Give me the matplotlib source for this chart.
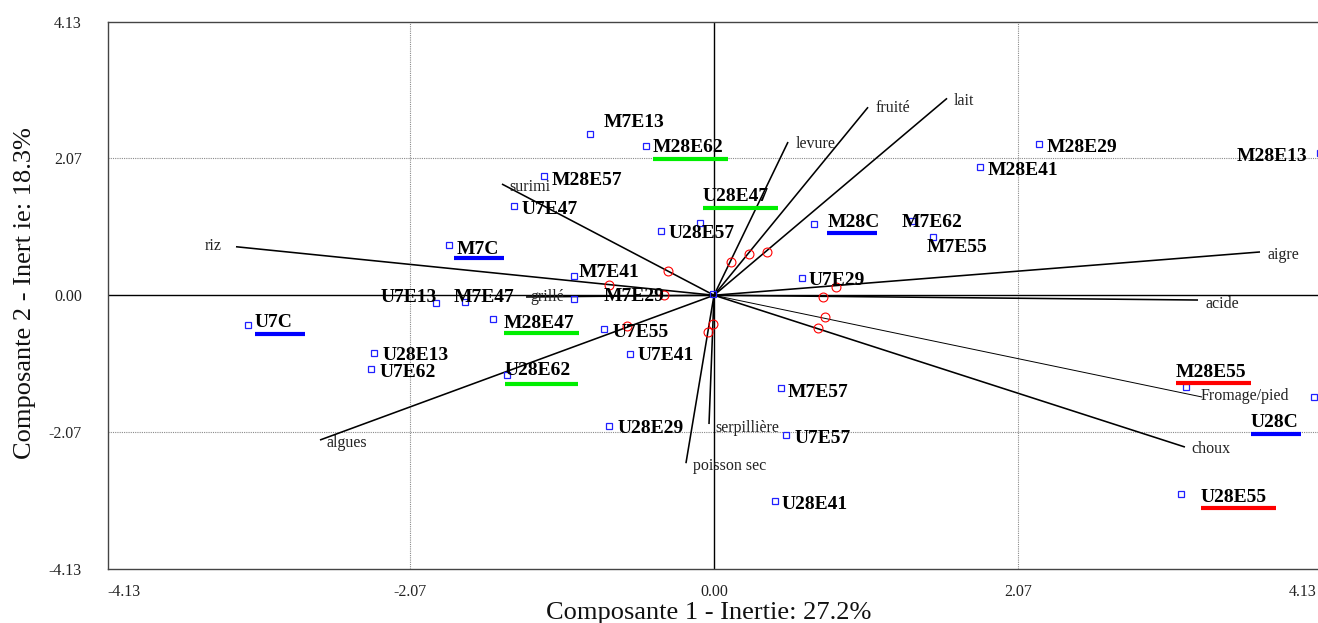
import matplotlib
matplotlib.use("Agg")
import matplotlib.pyplot as plt
from matplotlib.transforms import ScaledTranslation

plt.rcParams['font.family'] = ['Liberation Serif', 'DejaVu Serif']

# ---------------- data ----------------
# individuals (blue squares)
obs_x = [-0.844, -0.463, -1.158, -1.362, -0.095, -0.361, -1.805, 0.681, 1.348, 1.491,
         2.213, 1.811, 4.127, -0.953, 0.599, -1.893, -1.696, -0.953, -3.173, -1.505,
         -0.749, -2.315, -2.336, -1.410, -0.572, 0.456, -0.715, 0.490, 0.415, 3.214,
         4.085, 3.180, -0.007]
obs_y = [2.433, 2.252, 1.799, 1.346, 1.090, 0.969, 0.758, 1.075, 1.120, 0.879,
         2.282, 1.935, 2.146, 0.290, 0.260, -0.117, -0.102, -0.057, -0.449, -0.358,
         -0.509, -0.871, -1.112, -1.203, -0.887, -1.399, -1.973, -2.108, -3.104, -1.384,
         -1.535, -2.999, 0.019]

# individual labels and where they were written
obs_names = ['M7E13', 'M28E62', 'M28E57', 'U7E47', 'U28E47', 'U28E57', 'M7C', 'M28C',
             'M7E62', 'M7E55', 'M28E29', 'M28E41', 'M28E13', 'M7E41', 'U7E29', 'U7E13',
             'M7E47', 'M7E29', 'U7C', 'M28E47', 'U7E55', 'U28E13', 'U7E62', 'U28E62',
             'U7E41', 'M7E57', 'U28E29', 'U7E57', 'U28E41', 'M28E55', 'U28C', 'U28E55']
lab_x = [-0.749, -0.415, -1.103, -1.307, -0.075, -0.306, -1.750, 0.776, 1.280, 1.450,
         2.268, 1.866, 3.561, -0.919, 0.647, -2.268, -1.771, -0.749, -3.126, -1.430,
         -0.688, -2.254, -2.274, -1.423, -0.518, 0.504, -0.654, 0.552, 0.463, 3.146,
         3.657, 3.316]
lab_y = [2.633, 2.252, 1.758, 1.316, 1.513, 0.954, 0.717, 1.125, 1.125, 0.743,
         2.262, 1.915, 2.116, 0.370, 0.245, -0.011, -0.011, 0.008, -0.384, -0.399,
         -0.535, -0.886, -1.138, -1.113, -0.886, -1.440, -1.988, -2.134, -3.134, -1.138,
         -1.893, -3.024]

# highlight bars under some labels
hl_names = ['M28E62', 'U28E47', 'M28E47', 'U28E62', 'M7C', 'M28C', 'U7C', 'U28C', 'M28E55', 'U28E55']
hl_x0 = [-0.415, -0.075, -1.430, -1.423, -1.771, 0.769, -3.126, 3.657, 3.146, 3.316]
hl_x1 = [0.095, 0.436, -0.919, -0.926, -1.430, 1.110, -2.785, 3.998, 3.657, 3.827]
hl_y = [2.056, 1.312, -0.574, -1.334, 0.557, 0.939, -0.580, -2.089, -1.328, -3.205]
hl_group = ['g', 'g', 'g', 'g', 'b', 'b', 'b', 'b', 'r', 'r']

# variables (vectors)
var_names = ['riz', 'surimi', 'levure', 'fruité', 'lait', 'aigre', 'acide',
             'Fromage/pied', 'choux', 'algues', 'poisson sec', 'serpillière', 'grillé']
var_x = [-3.255, -1.444, 0.504, 1.049, 1.587, 3.718, 3.296, 3.323, 3.207, -2.683, -0.191, -0.034, -1.280]
var_y = [0.732, 1.678, 2.312, 2.837, 2.971, 0.653, -0.072, -1.535, -2.290, -2.184, -2.534, -1.943, -0.026]
var_lx = [-3.350, -1.396, 0.556, 1.101, 1.634, 3.771, 3.350, 3.316, 3.248, -2.637, -0.143, 0.012, -1.253]
var_ly = [0.773, 1.653, 2.302, 2.845, 2.961, 0.633, -0.106, -1.490, -2.300, -2.210, -2.551, -1.983, 0.004]
var_thin = [False, False, False, False, False, False, False, True, False, False, False, False, False]

# red circles on the vectors
circ_x = [-0.715, -0.313, 0.116, 0.238, 0.361, 0.831, 0.742, 0.756, 0.708, -0.592, -0.041, -0.007, -0.340]
circ_y = [0.154, 0.366, 0.502, 0.622, 0.653, 0.125, -0.026, -0.328, -0.494, -0.464, -0.554, -0.433, 0.004]

ticks = [-4.13, -2.07, 0.0, 2.07, 4.13]
tick_labels = ['-4.13', '-2.07', '0.00', '2.07', '4.13']
xlabel = 'Composante 1 - Inertie: 27.2%'
ylabel = 'Composante 2 - Inert ie: 18.3%'

# ---------------- figure ----------------
W, H = 1318, 623
fig = plt.figure(figsize=(W / 100, H / 100), dpi=100)
ax = fig.add_axes([107.5 / W, (H - 569) / H, (1320.5 - 107.5) / W, (569 - 21.5) / H])
ax.set_xlim(-4.13, 4.13)
ax.set_ylim(-4.13, 4.13)

for s in ['left', 'top', 'bottom']:
    ax.spines[s].set_color('#444444')
    ax.spines[s].set_linewidth(1.0)
ax.spines['right'].set_visible(False)

ax.set_xticks(ticks)
ax.set_xticklabels(tick_labels[:-1] + [''])
ax.set_yticks(ticks)
ax.set_yticklabels(tick_labels)
ax.tick_params(axis='x', length=0, pad=10.5, labelsize=11.5, labelcolor='#222222')
ax.tick_params(axis='y', length=0, pad=18.5, labelsize=11.5, labelcolor='#222222')
xl = ax.get_xticklabels()
xl[0].set_ha('left')
# last x tick label, pulled inside the picture
ax.text(ticks[-1], 0, tick_labels[-1], fontsize=11.5, color='#222222', ha='right', va='top',
        transform=ax.get_xaxis_transform() + ScaledTranslation(-4 / 100, -(10.5 + 0.5) / 72, fig.dpi_scale_trans),
        clip_on=False)

# grid at +-2.07
for v in [-2.07, 2.07]:
    ax.axvline(v, color='#8a8a8a', lw=0.8, ls=(0, (1, 1)), zorder=1)
    ax.axhline(v, color='#8a8a8a', lw=0.8, ls=(0, (1, 1)), zorder=1)
ax.axhline(0, color='black', lw=1.0, zorder=2)
ax.axvline(0, color='black', lw=1.0, zorder=2)

# vectors
for vx, vy, thin in zip(var_x, var_y, var_thin):
    ax.plot([0, vx], [0, vy], color='black', lw=0.7 if thin else 1.15,
            solid_capstyle='butt', zorder=3)

# offset to place text by its visual centre
def off(fs):
    return ax.transData + ScaledTranslation(0, -0.1 * fs / 72, fig.dpi_scale_trans)

for name, lx, ly in zip(var_names, var_lx, var_ly):
    ha = 'right' if name == 'riz' else 'left'
    ax.text(lx, ly, name, fontsize=11.5, color='#222222', ha=ha, va='center',
            transform=off(11.5), zorder=4)

ax.plot(circ_x, circ_y, ls='none', marker='o', ms=6.4, mfc='none', mec='red',
        mew=0.8, zorder=5)

ax.plot(obs_x, obs_y, ls='none', marker='s', ms=5.0, mfc='none', mec='#2020ff',
        mew=0.9, zorder=5, clip_on=False)

for name, lx, ly in zip(obs_names, lab_x, lab_y):
    ax.text(lx, ly, name, fontsize=14, fontweight='bold', color='black',
            ha='left', va='center', transform=off(14), zorder=6)

colors = {'g': '#00ee00', 'b': '#0000ff', 'r': '#ff0000'}
for x0, x1, y, g in zip(hl_x0, hl_x1, hl_y, hl_group):
    ax.plot([x0, x1], [y, y], color=colors[g], lw=3.0, solid_capstyle='butt', zorder=6)

# axis titles
fig.text(709 / W, (H - 619) / H, xlabel, fontsize=19, ha='center', va='baseline',
         color='#111111')
fig.text(31 / W, (H - 293) / H, ylabel, fontsize=19, ha='center', va='baseline',
         rotation=90, rotation_mode='anchor', color='#111111')

fig.savefig('out.png', dpi=100)
